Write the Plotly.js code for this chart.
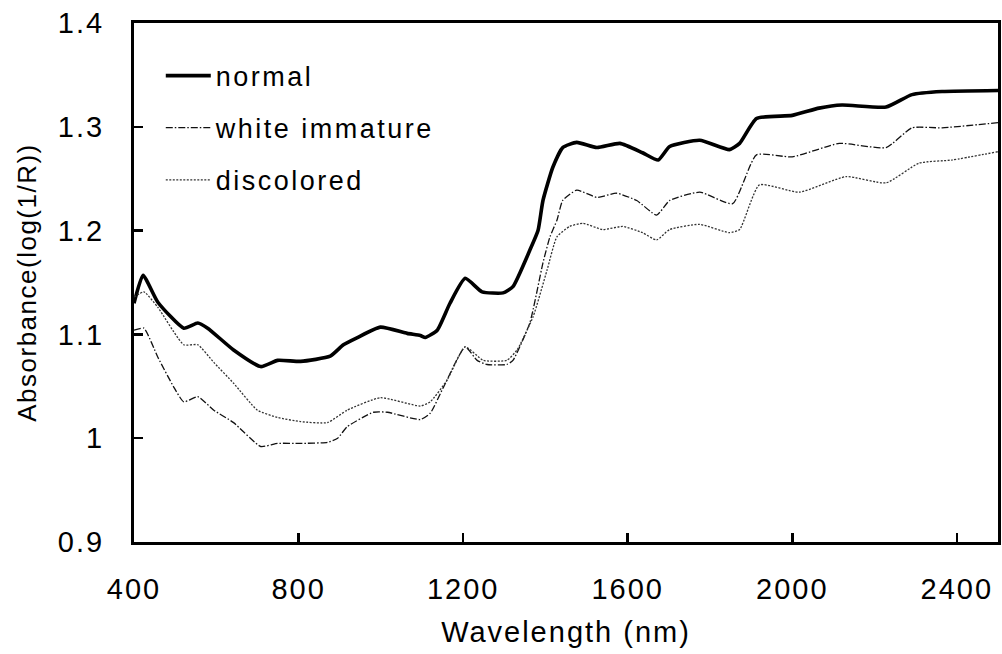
<!DOCTYPE html>
<html>
<head>
<meta charset="utf-8">
<script src="https://cdn.plot.ly/plotly-3.0.1.min.js"></script>
<style>
  html, body { margin: 0; padding: 0; background: #fff; }
  #chart { width: 1002px; height: 654px; }
  .xtick text, .ytick text { letter-spacing: 2px; }
  .g-xtitle text { letter-spacing: 2px; }
  .g-ytitle text { letter-spacing: 1.5px; }
  .legendtext { letter-spacing: 2.5px; }
</style>
</head>
<body>
<div id="chart"></div>
<script>
// ---- data ----
const seriesNames = ["normal", "white immature", "discolored"];

const wlNormal = [400, 422, 458, 521, 555, 579, 642, 708, 749, 805, 877, 909, 943, 999, 1064, 1096, 1108, 1137, 1168, 1205, 1246, 1297, 1321, 1362, 1382, 1394, 1418, 1442, 1476, 1525, 1581, 1636, 1674, 1702, 1775, 1847, 1872, 1913, 2000, 2065, 2121, 2228, 2291, 2364, 2500];
const absNormal = [1.130, 1.157, 1.131, 1.106, 1.111, 1.106, 1.085, 1.069, 1.075, 1.074, 1.079, 1.090, 1.097, 1.107, 1.101, 1.099, 1.097, 1.104, 1.130, 1.154, 1.141, 1.140, 1.146, 1.181, 1.200, 1.229, 1.261, 1.280, 1.285, 1.280, 1.284, 1.275, 1.268, 1.281, 1.287, 1.278, 1.284, 1.308, 1.311, 1.318, 1.321, 1.319, 1.331, 1.334, 1.335];

const wlWhite = [400, 424, 458, 497, 521, 555, 594, 642, 708, 749, 805, 870, 895, 918, 982, 1016, 1096, 1120, 1152, 1205, 1234, 1258, 1306, 1321, 1362, 1394, 1411, 1428, 1442, 1476, 1525, 1573, 1622, 1670, 1702, 1775, 1855, 1913, 2000, 2114, 2228, 2291, 2364, 2500];
const absWhite = [1.104, 1.106, 1.078, 1.049, 1.035, 1.040, 1.027, 1.015, 0.992, 0.995, 0.995, 0.996, 1.000, 1.011, 1.025, 1.025, 1.018, 1.024, 1.049, 1.088, 1.075, 1.071, 1.071, 1.075, 1.111, 1.169, 1.194, 1.210, 1.229, 1.239, 1.232, 1.236, 1.229, 1.215, 1.229, 1.237, 1.226, 1.273, 1.271, 1.284, 1.280, 1.299, 1.299, 1.304];

const wlDisc = [400, 424, 458, 521, 555, 594, 642, 700, 749, 805, 870, 918, 999, 1096, 1120, 1161, 1205, 1249, 1306, 1331, 1370, 1404, 1428, 1459, 1491, 1539, 1588, 1636, 1670, 1702, 1775, 1847, 1872, 1920, 2017, 2131, 2228, 2308, 2388, 2500];
const absDisc = [1.136, 1.141, 1.126, 1.090, 1.090, 1.073, 1.053, 1.027, 1.020, 1.016, 1.015, 1.027, 1.039, 1.031, 1.035, 1.056, 1.088, 1.075, 1.075, 1.085, 1.117, 1.162, 1.194, 1.204, 1.207, 1.201, 1.204, 1.198, 1.191, 1.201, 1.206, 1.198, 1.201, 1.244, 1.237, 1.252, 1.246, 1.265, 1.268, 1.276];

const xTickVals = [400, 800, 1200, 1600, 2000, 2400];
const xTickText = ["400", "800", "1200", "1600", "2000", "2400"];
const yTickVals = [0.9, 1.0, 1.1, 1.2, 1.3, 1.4];
const yTickText = ["0.9", "1", "1.1", "1.2", "1.3", "1.4"];

const FONT = "Liberation Sans, Arial, Helvetica, sans-serif";

const traces = [
  { x: wlNormal, y: absNormal, name: seriesNames[0], legendgroup: "a", mode: "lines",
    line: { color: "#000", width: 3.6, shape: "spline", smoothing: 0.5 } },
  { x: wlWhite, y: absWhite, name: seriesNames[1], legendgroup: "b", mode: "lines",
    line: { color: "#111", width: 1.3, dash: "7px,2px,1.5px,2px", shape: "spline", smoothing: 0.5 } },
  { x: wlDisc, y: absDisc, name: seriesNames[2], legendgroup: "c", mode: "lines",
    line: { color: "#333", width: 1.3, dash: "2px,1.5px", shape: "spline", smoothing: 0.5 } }
];

const axisCommon = {
  showgrid: false, zeroline: false, showline: true, mirror: true,
  linecolor: "#000", linewidth: 3,
  ticks: "inside", ticklen: 9, tickwidth: 2.5, tickcolor: "#000",
  tickfont: { family: FONT, size: 29, color: "#000" }
};

const layout = {
  width: 1002, height: 654,
  margin: { l: 134, r: 4, t: 23, b: 112 },
  paper_bgcolor: "#fff", plot_bgcolor: "#fff",
  font: { family: FONT, color: "#000" },
  showlegend: true,
  legend: {
    x: 0.031, y: 0.945, xanchor: "left", yanchor: "top",
    bgcolor: "rgba(0,0,0,0)", borderwidth: 0,
    font: { family: FONT, size: 27, color: "#000" },
    itemwidth: 45,
    traceorder: "grouped", tracegroupgap: 14
  },
  xaxis: Object.assign({}, axisCommon, {
    range: [400, 2500], tickmode: "array", tickvals: xTickVals, ticktext: xTickText,
    ticklabelstandoff: 19,
    title: { text: "Wavelength (nm)", font: { family: FONT, size: 29, color: "#000" }, standoff: 18 }
  }),
  yaxis: Object.assign({}, axisCommon, {
    range: [0.9, 1.4], tickmode: "array", tickvals: yTickVals, ticktext: yTickText,
    ticklabelstandoff: 21,
    title: { text: "Absorbance(log(1/R))", font: { family: FONT, size: 26, color: "#000" }, standoff: 14 }
  })
};

Plotly.newPlot("chart", traces, layout, { displayModeBar: false, staticPlot: true });
</script>
</body>
</html>
